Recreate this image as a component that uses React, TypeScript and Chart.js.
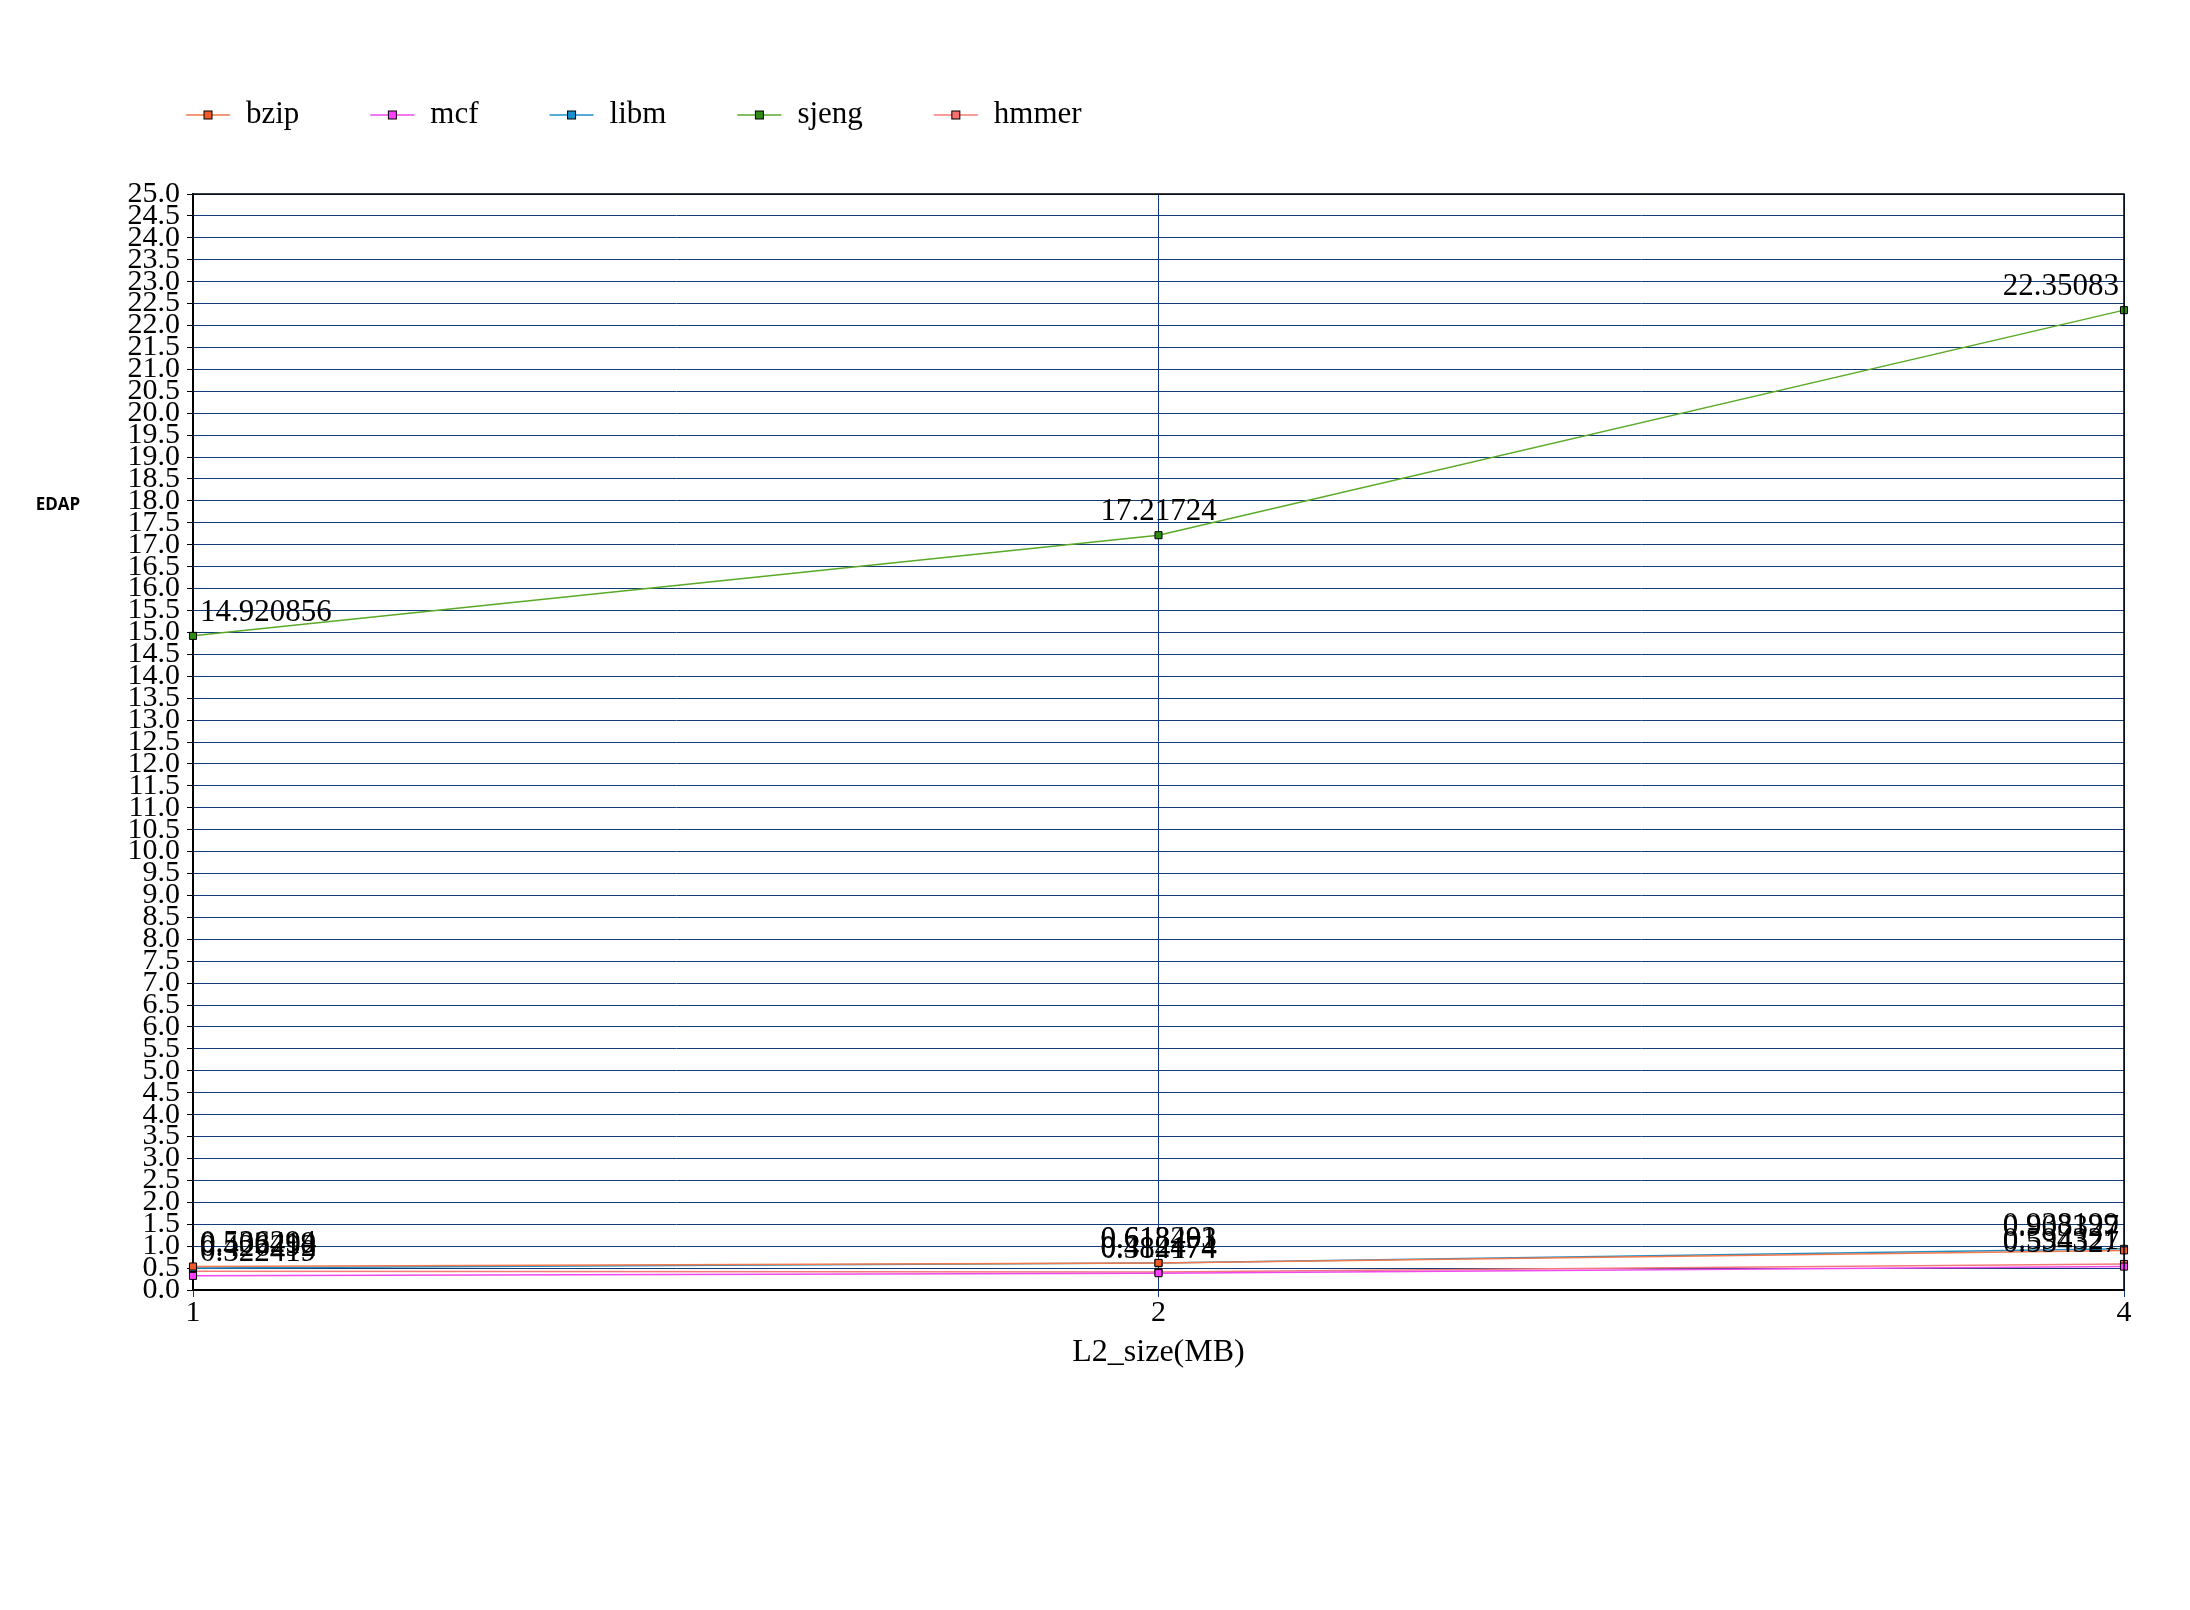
import React, { useEffect, useRef } from "react";
import { Chart, registerables } from "chart.js";

Chart.register(...registerables);

const categories = ["1", "2", "4"];
const seriesNames = ["bzip", "mcf", "libm", "sjeng", "hmmer"];
const bzip = [0.536294, 0.618291, 0.903327];
const mcf = [0.322419, 0.384174, 0.534327];
const libm = [0.502419, 0.613403, 0.938199];
const sjeng = [14.920856, 17.21724, 22.35083];
const hmmer = [0.426292, 0.412474, 0.594321];
const seriesValues = [bzip, mcf, libm, sjeng, hmmer];
const lineColors = ["#f5784a", "#ee48ee", "#1e90c8", "#5aaa28", "#f47a7a"];
const pointColors = ["#f05a28", "#ff40ff", "#1890d0", "#2e8b12", "#f87070"];
const yMin = 0;
const yMax = 25;
const yStep = 0.5;
const xTitle = "L2_size(MB)";
const yTitle = "EDAP";

const SERIF = "'Liberation Serif', 'DejaVu Serif', serif";
const GRID = "#123c78";

const extrasPlugin = {
  id: "extras",
  afterDatasetsDraw(chart: any) {
    const ctx = chart.ctx;
    const area = chart.chartArea;
    ctx.save();
    ctx.strokeStyle = "#000";
    ctx.lineWidth = 1.5;
    ctx.beginPath();
    ctx.moveTo(area.left, area.top);
    ctx.lineTo(area.right, area.top);
    ctx.lineTo(area.right, area.bottom);
    ctx.stroke();
    ctx.restore();

    ctx.save();
    ctx.font = `31px ${SERIF}`;
    ctx.fillStyle = "#000";
    ctx.textBaseline = "middle";
    chart.data.datasets.forEach((ds: any, di: number) => {
      const meta = chart.getDatasetMeta(di);
      meta.data.forEach((pt: any, i: number) => {
        const n = meta.data.length;
        let x = pt.x;
        if (i === 0) {
          ctx.textAlign = "left";
          x += 7;
        } else if (i === n - 1) {
          ctx.textAlign = "right";
          x -= 5;
        } else {
          ctx.textAlign = "center";
        }
        ctx.fillText(String(ds.data[i]), x, pt.y - 23);
      });
    });
    ctx.restore();
  },
  afterDraw(chart: any) {
    const ctx = chart.ctx;
    ctx.save();
    ctx.font = "bold 17px 'Open Sans', 'DejaVu Sans', sans-serif";
    ctx.fillStyle = "#000";
    ctx.textAlign = "center";
    ctx.textBaseline = "middle";
    ctx.fillText(yTitle, 58, 505);
    ctx.restore();

    ctx.save();
    ctx.font = `31px ${SERIF}`;
    ctx.textBaseline = "middle";
    ctx.textAlign = "left";
    let x = 186;
    const y = 115;
    chart.data.datasets.forEach((ds: any) => {
      ctx.strokeStyle = ds.borderColor;
      ctx.lineWidth = 1.5;
      ctx.beginPath();
      ctx.moveTo(x, y);
      ctx.lineTo(x + 44, y);
      ctx.stroke();
      ctx.fillStyle = ds.pointBackgroundColor;
      ctx.fillRect(x + 18, y - 4, 8, 8);
      ctx.strokeStyle = "#000";
      ctx.lineWidth = 1;
      ctx.strokeRect(x + 18, y - 4, 8, 8);
      ctx.fillStyle = "#000";
      ctx.fillText(ds.label, x + 60, y);
      x += 60 + ctx.measureText(ds.label).width + 71;
    });
    ctx.restore();
  },
};

export default function App() {
  const ref = useRef<HTMLCanvasElement | null>(null);
  useEffect(() => {
    if (!ref.current) return;
    const chart = new Chart(ref.current, {
      type: "line",
      data: {
        labels: categories,
        datasets: seriesNames.map((name, i) => ({
          label: name,
          data: seriesValues[i],
          borderColor: lineColors[i],
          backgroundColor: pointColors[i],
          pointBackgroundColor: pointColors[i],
          pointBorderColor: "#000",
          pointBorderWidth: 1,
          pointStyle: "rect",
          pointRadius: 5,
          borderWidth: 1.5,
          tension: 0,
          fill: false,
        })),
      },
      options: {
        animation: false,
        responsive: false,
        devicePixelRatio: 1,
        layout: { padding: { left: 113, right: 66, top: 194, bottom: 238.6 } },
        plugins: {
          legend: { display: false },
          tooltip: { enabled: false },
          title: { display: false },
        },
        scales: {
          x: {
            type: "category",
            offset: false,
            grid: {
              color: GRID,
              lineWidth: 1,
              tickLength: 7,
              tickColor: GRID,
            },
            border: { color: "#000", width: 2 },
            ticks: {
              color: "#000",
              font: { family: SERIF, size: 30 },
              padding: -2,
              maxRotation: 0,
              minRotation: 0,
              autoSkip: false,
            },
            title: {
              display: true,
              text: xTitle,
              color: "#000",
              font: { family: SERIF, size: 32 },
              padding: { top: 4, bottom: 0 },
            },
          },
          y: {
            min: yMin,
            max: yMax,
            afterFit: (s: any) => {
              s.width = 80;
            },
            grid: {
              color: GRID,
              lineWidth: 1,
              tickLength: 6,
              tickColor: "#000",
            },
            border: { color: "#000", width: 2 },
            ticks: {
              stepSize: yStep,
              autoSkip: false,
              color: "#000",
              padding: 7,
              font: { family: SERIF, size: 30, lineHeight: 1 },
              callback: (v: any) => Number(v).toFixed(1),
            },
          },
        },
      },
      plugins: [extrasPlugin],
    });
    return () => chart.destroy();
  }, []);
  return (
    <div style={{ position: "absolute", left: 0, top: 0, width: 2190, height: 1610, background: "#fff" }}>
      <canvas ref={ref} width={2190} height={1610} style={{ display: "block" }} />
    </div>
  );
}
